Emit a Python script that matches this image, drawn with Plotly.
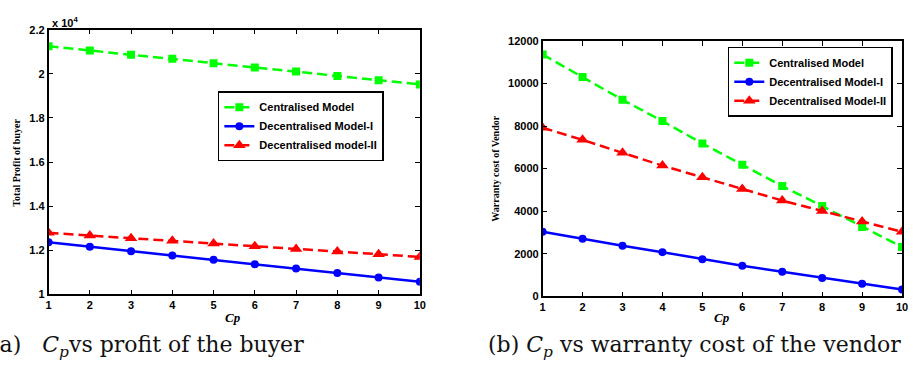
import plotly.graph_objects as go

W, H = 913, 373

cp = [1, 2, 3, 4, 5, 6, 7, 8, 9, 10]

# (a) Total profit of buyer, in units of 10^4
profit_central = [2.125, 2.106, 2.087, 2.068, 2.048, 2.029, 2.010, 1.990, 1.971, 1.952]
profit_dec1 = [1.236, 1.216, 1.196, 1.176, 1.157, 1.137, 1.117, 1.097, 1.077, 1.057]
profit_dec2 = [1.279, 1.267, 1.255, 1.243, 1.231, 1.218, 1.206, 1.194, 1.182, 1.170]

# (b) Warranty cost of vendor
warr_central = [11360, 10300, 9230, 8230, 7180, 6180, 5180, 4240, 3260, 2320]
warr_dec1 = [3030, 2700, 2380, 2076, 1742, 1440, 1152, 864, 590, 318]
warr_dec2 = [7920, 7350, 6740, 6140, 5590, 5045, 4500, 4010, 3510, 3030]

left_ticks = [1, 1.2, 1.4, 1.6, 1.8, 2, 2.2]
left_ticktext = ["1", "1.2", "1.4", "1.6", "1.8", "2", "2.2"]
right_ticks = [0, 2000, 4000, 6000, 8000, 10000, 12000]
right_ticktext = ["0", "2000", "4000", "6000", "8000", "10000", "12000"]

GREEN, BLUE, RED = "#00FF00", "#0000FF", "#FF0000"
DASH = "10px,5px"

fig = go.Figure()

def add_set(xa, ya, legend, c, d1, d2, names):
    fig.add_trace(go.Scatter(x=cp, y=c, xaxis=xa, yaxis=ya, legend=legend, name=names[0],
                             mode="lines+markers",
                             line=dict(color=GREEN, width=2.5, dash=DASH),
                             marker=dict(symbol="square", size=8, color=GREEN)))
    fig.add_trace(go.Scatter(x=cp, y=d1, xaxis=xa, yaxis=ya, legend=legend, name=names[1],
                             mode="lines+markers",
                             line=dict(color=BLUE, width=2.5),
                             marker=dict(symbol="circle", size=8, color=BLUE)))
    fig.add_trace(go.Scatter(x=cp, y=d2, xaxis=xa, yaxis=ya, legend=legend, name=names[2],
                             mode="lines+markers",
                             line=dict(color=RED, width=2.5, dash=DASH),
                             marker=dict(symbol="triangle-up", size=11, color=RED)))

add_set("x", "y", "legend", profit_central, profit_dec1, profit_dec2,
        ["Centralised Model", "Decentralised Model-I", "Decentralised model-II"])
add_set("x2", "y2", "legend2", warr_central, warr_dec1, warr_dec2,
        ["Centralised Model", "Decentralised Model-I", "Decentralised Model-II"])

tickfont = dict(family="Liberation Sans, Arial", size=11, color="black", weight="bold")
axis_common = dict(showgrid=False, zeroline=False, showline=True, linecolor="black",
                   linewidth=1.5, mirror="ticks", ticks="inside", ticklen=5,
                   tickcolor="black", tickwidth=1, tickfont=tickfont)

def px(x):
    return x / W

def py(y):
    return 1 - y / H

legfont = dict(family="Liberation Sans, Arial", size=11, color="black", weight="bold")

fig.update_layout(
    width=W, height=H, margin=dict(l=0, r=0, t=0, b=0),
    paper_bgcolor="white", plot_bgcolor="white",
    showlegend=True,
    xaxis=dict(domain=[px(46), px(421)], range=[1, 10], tickvals=cp, anchor="y", **axis_common),
    yaxis=dict(domain=[py(298), py(24.5)], range=[1, 2.2], tickvals=left_ticks,
               ticktext=left_ticktext, anchor="x", **axis_common),
    xaxis2=dict(domain=[px(545), px(908)], range=[1, 10], tickvals=cp, anchor="y2", **axis_common),
    yaxis2=dict(domain=[py(300), py(36)], range=[0, 12000], tickvals=right_ticks,
                ticktext=right_ticktext, anchor="x2", **axis_common),
    legend=dict(x=px(217), y=py(88), xanchor="left", yanchor="top",
                bordercolor="black", borderwidth=1.5, bgcolor="white",
                font=legfont, itemwidth=30, tracegroupgap=0),
    legend2=dict(x=px(732), y=py(42), xanchor="left", yanchor="top",
                 bordercolor="black", borderwidth=1.5, bgcolor="white",
                 font=legfont, itemwidth=30, tracegroupgap=0),
)

ann = []
ann.append(dict(text="x 10<sup>4</sup>", x=px(47), y=py(17), xref="paper", yref="paper",
                xanchor="left", yanchor="middle", showarrow=False,
                font=dict(family="Liberation Sans, Arial", size=11, color="black", weight="bold")))
ann.append(dict(text="Total Profit of buyer", x=px(14), y=py(162), xref="paper", yref="paper",
                textangle=-90, showarrow=False, xanchor="center", yanchor="middle",
                font=dict(family="Liberation Serif, Times New Roman", size=10, color="black", weight="bold")))
ann.append(dict(text="Warranty cost of Vendor", x=px(498), y=py(168), xref="paper", yref="paper",
                textangle=-90, showarrow=False, xanchor="center", yanchor="middle",
                font=dict(family="Liberation Serif, Times New Roman", size=10, color="black", weight="bold")))
ann.append(dict(text="<i>Cp</i>", x=px(232), y=py(322), xref="paper", yref="paper",
                showarrow=False, xanchor="center", yanchor="middle",
                font=dict(family="Liberation Serif, Times New Roman", size=13, color="black", weight="bold")))
ann.append(dict(text="<i>Cp</i>", x=px(726), y=py(322), xref="paper", yref="paper",
                showarrow=False, xanchor="center", yanchor="middle",
                font=dict(family="Liberation Serif, Times New Roman", size=13, color="black", weight="bold")))
capfont = dict(family="DejaVu Serif", size=22, color="#111111")
ann.append(dict(text="(a)   <i>C</i><sub><i>p</i></sub>vs profit of the buyer", x=px(-14), y=py(352),
                xref="paper", yref="paper", showarrow=False, xanchor="left", yanchor="middle",
                font=capfont))
ann.append(dict(text="(b) <i>C</i><sub><i>p</i></sub> vs warranty cost of the vendor", x=px(488), y=py(352),
                xref="paper", yref="paper", showarrow=False, xanchor="left", yanchor="middle",
                font=capfont))
fig.update_layout(annotations=ann)

fig.write_html("out.html")
